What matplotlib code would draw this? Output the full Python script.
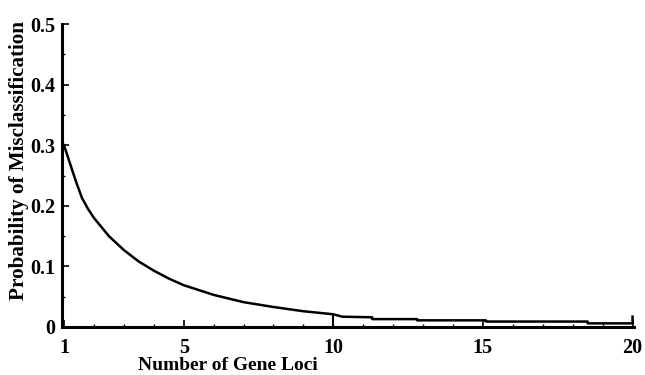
import numpy as np
import matplotlib.pyplot as plt

# values
loci = [1, 1.2, 1.4, 1.6, 1.8, 2, 2.5, 3, 3.5, 4, 4.5, 5, 6, 7, 8, 9, 10, 10.3,
        11.3, 11.3, 12.8, 12.8, 15.1, 15.1, 18.5, 18.5, 20.0, 20.0]
prob = [0.300, 0.270, 0.240, 0.213, 0.195, 0.180, 0.150, 0.127, 0.108, 0.093,
        0.080, 0.069, 0.053, 0.041, 0.033, 0.026, 0.021, 0.017,
        0.016, 0.013, 0.013, 0.011, 0.011, 0.009, 0.009, 0.006, 0.006, 0.017]
xticks = [1, 5, 10, 15, 20]
yticks = [0, 0.1, 0.2, 0.3, 0.4, 0.5]
ytick_labels = ['0', '0.1', '0.2', '0.3', '0.4', '0.5']

plt.rcParams['font.family'] = ['Liberation Serif', 'DejaVu Serif']
plt.rcParams['font.weight'] = 'bold'

fig = plt.figure(figsize=(6.45, 3.75), dpi=100)
ax = fig.add_axes([0.096, 0.128, 0.887, 0.808])

ax.plot(loci, prob, color='black', lw=1.8)
# tall tick at 10 that reaches the curve
ax.vlines(10, 0, prob[loci.index(10)], color='black', lw=1.5)

ax.set_xlim(0.93, 20.05)
ax.set_ylim(0, 0.5)
ax.set_xticks(xticks)
ax.set_xticks(np.arange(1, 21), minor=True)
ax.set_yticks(yticks)
ax.set_yticklabels(ytick_labels)
ax.set_yticks(np.arange(0, 0.5, 0.05), minor=True)

ax.tick_params(which='major', direction='in', length=5, width=1.2,
               labelsize=14.5, pad=8)
ax.tick_params(which='minor', direction='in', length=2.5, width=1)
ax.tick_params(axis='y', which='major', pad=5)
for lbl in ax.get_xticklabels() + ax.get_yticklabels():
    lbl.set_fontweight('bold')

for s in ['top', 'right']:
    ax.spines[s].set_visible(False)
for s in ['left', 'bottom']:
    ax.spines[s].set_linewidth(2.2)

ax.set_xlabel('Number of Gene Loci', fontsize=14, fontweight='bold')
ax.xaxis.set_label_coords(0.29, -0.098)
ax.set_ylabel('Probability of Misclassification', fontsize=15.2, fontweight='bold')
ax.yaxis.set_label_coords(-0.058, 0.551)

fig.savefig('out.png', dpi=100)
